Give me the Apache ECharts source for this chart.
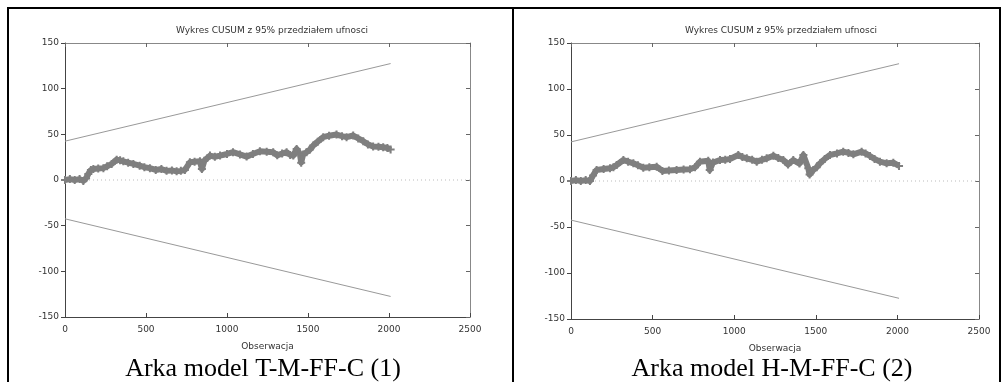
<!DOCTYPE html>
<html><head><meta charset="utf-8">
<script src="https://cdn.jsdelivr.net/npm/echarts@6/dist/echarts.min.js"></script>
<style>html,body{margin:0;padding:0;background:#fff}#c{width:1006px;height:382px}</style>
</head><body><div id="c"></div>
<script>
const xTicks = [0, 500, 1000, 1500, 2000, 2500];
const yTicks = [-150, -100, -50, 0, 50, 100, 150];
const chartTitle = 'Wykres CUSUM z 95% przedziałem ufnosci';
const xName = 'Obserwacja';
const captions = ['Arka model T-M-FF-C (1)', 'Arka model H-M-FF-C (2)'];
// confidence bounds (obs, value)
const upperBound = [[0, 42.5], [2010, 127.5]];
const lowerBound = [[0, -42.5], [2010, -127.5]];
// CUSUM, model 1
const obs1 = [0, 30, 60, 90, 113, 130, 144, 160, 175, 205, 237, 260, 288, 319, 340, 360, 390, 422, 461, 490, 524, 560, 595, 627, 660, 689, 715, 740, 771, 800, 833, 845, 860, 895, 925, 957, 1000, 1037, 1080, 1121, 1160, 1203, 1245, 1285, 1310, 1340, 1368, 1390, 1409, 1430, 1450, 1458, 1470, 1491, 1510, 1532, 1560, 1594, 1630, 1676, 1710, 1738, 1779, 1810, 1841, 1870, 1902, 1935, 1964, 1990, 2010];
const cusum1 = [0, 1, 0, 1, -1, 2, 6.6, 11, 12, 12.5, 13, 15, 17.6, 22.3, 21.5, 20.5, 19, 17.6, 15.7, 14, 13, 11, 12, 10, 10.5, 9.5, 10, 11, 19.4, 20, 20.5, 12, 21, 26.7, 25.5, 26.7, 28.5, 30.4, 28, 25.6, 28.5, 31.5, 31, 30.4, 27, 29, 30.4, 27.5, 26.7, 34, 28.6, 19, 28, 30.4, 33, 37.7, 42, 46.9, 48.5, 49.8, 48, 46.9, 48.7, 45.5, 42.5, 39, 36.6, 36.5, 35.9, 35, 33.3];
// CUSUM, model 2
const obs2 = [0, 30, 60, 90, 116, 135, 157, 200, 239, 260, 280, 321, 350, 382, 410, 443, 480, 525, 560, 600, 647, 690, 729, 760, 790, 841, 850, 870, 913, 945, 974, 1025, 1050, 1077, 1110, 1138, 1170, 1199, 1240, 1270, 1301, 1330, 1362, 1400, 1424, 1454, 1462, 1485, 1505, 1526, 1555, 1587, 1630, 1668, 1700, 1730, 1781, 1805, 1832, 1860, 1893, 1934, 1975, 2010];
const cusum2 = [0, 1, 0, 1, 0, 6, 12, 13, 13.8, 15, 17.4, 22.8, 21, 19.2, 17, 14.5, 15, 15.6, 10.9, 11.5, 12, 12.5, 12.7, 15, 21, 22, 12, 20, 22.8, 23, 24, 28.3, 26, 24.6, 23, 21, 23, 24.6, 27.5, 25, 22.8, 18, 22.8, 19, 28.3, 13.8, 7, 12, 15, 19.2, 24, 28.3, 30, 31.9, 30.5, 29, 31.9, 30, 27.2, 24, 21, 19.2, 19.9, 16.3];

const zip = (a, b) => a.map((v, i) => [v, b[i]]);
const font = 'DejaVu Sans';
const fs = 9;
const grids = [
  {left: 65, top: 43, width: 405, height: 274},
  {left: 571, top: 43, width: 408, height: 276}
];
const xAxis = [], yAxis = [], series = [];
grids.forEach((g, i) => {
  xAxis.push({
    gridIndex: i, type: 'value', min: xTicks[0], max: xTicks[xTicks.length - 1], interval: 500,
    position: 'bottom', name: xName, nameLocation: 'middle', nameGap: 25,
    nameTextStyle: {fontFamily: font, fontSize: fs, color: '#333'},
    axisLine: {onZero: false, lineStyle: {color: '#444', width: 1}},
    axisTick: {inside: true, length: 4, lineStyle: {color: '#444'}},
    axisLabel: {fontFamily: font, fontSize: fs, color: '#333', margin: 8, formatter: v => String(v)},
    splitLine: {show: false}
  });
  xAxis.push({
    gridIndex: i, type: 'value', min: 0, max: 2500, interval: 500, position: 'top',
    axisLine: {onZero: false, lineStyle: {color: '#888', width: 1}},
    axisTick: {inside: true, length: 4, lineStyle: {color: '#666'}},
    axisLabel: {show: false}, splitLine: {show: false}
  });
  yAxis.push({
    gridIndex: i, type: 'value', min: yTicks[0], max: yTicks[yTicks.length - 1], interval: 50,
    position: 'left',
    axisLine: {onZero: false, lineStyle: {color: '#444', width: 1}},
    axisTick: {inside: false, length: 4, lineStyle: {color: '#444'}},
    axisLabel: {fontFamily: font, fontSize: fs, color: '#333', margin: 6, formatter: v => String(v)},
    splitLine: {show: false}
  });
  yAxis.push({
    gridIndex: i, type: 'value', min: -150, max: 150, interval: 50, position: 'right',
    axisLine: {onZero: false, lineStyle: {color: '#888', width: 1}},
    axisTick: {inside: true, length: 4, lineStyle: {color: '#666'}},
    axisLabel: {show: false}, splitLine: {show: false}
  });
  const xi = i * 2, yi = i * 2;
  series.push({type: 'line', xAxisIndex: xi, yAxisIndex: yi, data: [[0, 0], [2500, 0]], symbol: 'none',
    lineStyle: {color: '#bbb', width: 1, type: [1, 3]}, silent: true});
  series.push({type: 'line', xAxisIndex: xi, yAxisIndex: yi, data: upperBound, symbol: 'none',
    lineStyle: {color: '#999', width: 1}, silent: true});
  series.push({type: 'line', xAxisIndex: xi, yAxisIndex: yi, data: lowerBound, symbol: 'none',
    lineStyle: {color: '#999', width: 1}, silent: true});
  const d = i === 0 ? zip(obs1, cusum1) : zip(obs2, cusum2);
  series.push({type: 'line', xAxisIndex: xi, yAxisIndex: yi, data: d,
    symbol: 'path://M3,0H5V3H8V5H5V8H3V5H0V3H3Z', symbolSize: 8,
    itemStyle: {color: '#7f7f7f'},
    lineStyle: {color: '#7f7f7f', width: 6, join: 'round'}, silent: true});
});

const chart = echarts.init(document.getElementById('c'), null, {renderer: 'canvas'});
chart.setOption({
  animation: false,
  backgroundColor: '#fff',
  grid: grids,
  xAxis: xAxis,
  yAxis: yAxis,
  series: series,
  title: [
    {text: chartTitle, left: 267, top: 21, textAlign: 'center',
      textStyle: {fontFamily: font, fontSize: fs, fontWeight: 'normal', color: '#333'}},
    {text: chartTitle, left: 776, top: 21, textAlign: 'center',
      textStyle: {fontFamily: font, fontSize: fs, fontWeight: 'normal', color: '#333'}},
    {text: captions[0], left: 258, top: 351, textAlign: 'center',
      textStyle: {fontFamily: 'Liberation Serif', fontSize: 26, fontWeight: 'normal', color: '#000'}},
    {text: captions[1], left: 767, top: 351, textAlign: 'center',
      textStyle: {fontFamily: 'Liberation Serif', fontSize: 26, fontWeight: 'normal', color: '#000'}}
  ],
  graphic: [
    {type: 'line', shape: {x1: 7, y1: 8, x2: 1001, y2: 8}, style: {stroke: '#000', lineWidth: 2}},
    {type: 'line', shape: {x1: 8, y1: 7, x2: 8, y2: 382}, style: {stroke: '#000', lineWidth: 2}},
    {type: 'line', shape: {x1: 513, y1: 7, x2: 513, y2: 382}, style: {stroke: '#000', lineWidth: 2}},
    {type: 'line', shape: {x1: 1000, y1: 7, x2: 1000, y2: 382}, style: {stroke: '#000', lineWidth: 2}}
  ]
});
</script></body></html>
